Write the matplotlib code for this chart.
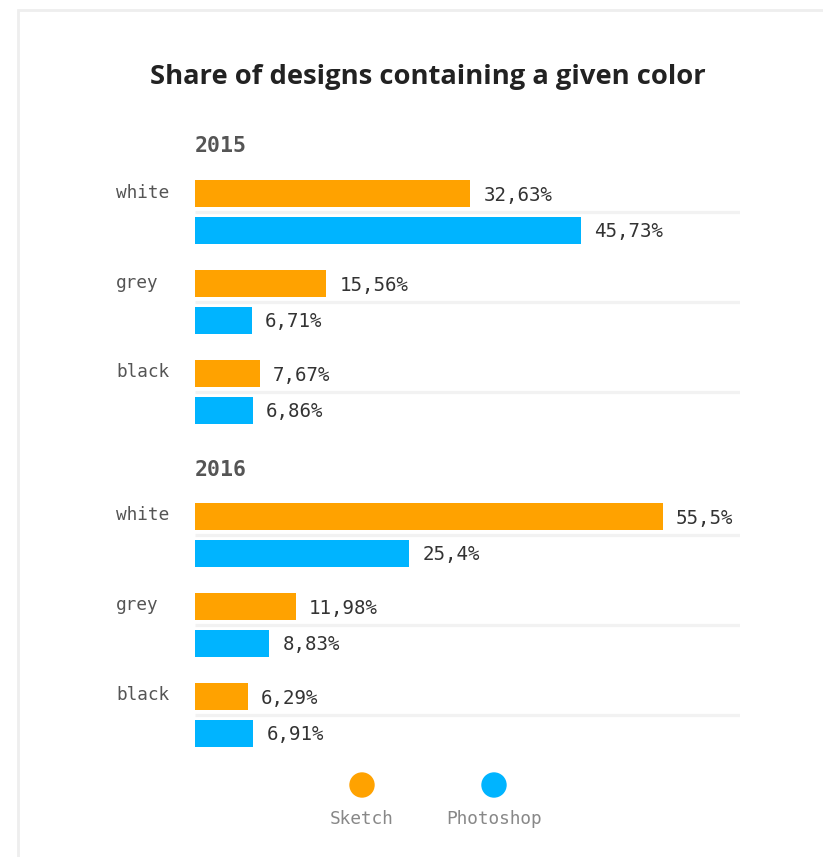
import matplotlib
matplotlib.use("Agg")
import matplotlib.pyplot as plt
from matplotlib.patches import Rectangle, Ellipse

years = ["2015", "2016"]
colors_cat = ["white", "grey", "black"]
sketch = {"2015": [32.63, 15.56, 7.67], "2016": [55.5, 11.98, 6.29]}
photoshop = {"2015": [45.73, 6.71, 6.86], "2016": [25.4, 8.83, 6.91]}
value_labels_sketch = {"2015": ["32,63%", "15,56%", "7,67%"], "2016": ["55,5%", "11,98%", "6,29%"]}
value_labels_photoshop = {"2015": ["45,73%", "6,71%", "6,86%"], "2016": ["25,4%", "8,83%", "6,91%"]}
series_names = ["Sketch", "Photoshop"]
series_colors = ["#ffa200", "#00b4ff"]

W, H = 823, 857
fig = plt.figure(figsize=(W / 100, H / 100), dpi=100)
fig.patch.set_facecolor("white")

# card border
fig.patches.append(Rectangle((18 / W, -0.05), 1.1, (H - 10) / H + 0.05, transform=fig.transFigure,
                             facecolor="none", edgecolor="#eeeeee", linewidth=2, zorder=-5))

AX_L, AX_R = 195, 740
XMAX = 64.65
ax = fig.add_axes([AX_L / W, 0, (AX_R - AX_L) / W, 1])
ax.set_zorder(2)
ax.set_xlim(0, XMAX)
ax.set_ylim(H, 0)
ax.axis("off")
ax.patch.set_alpha(0)

MONO = "DejaVu Sans Mono"
bar_h = 27
step_bar = 36.5
step_group = 90
step_year = 323
top0 = 180

for yi, yr in enumerate(years):
    ybase = top0 + yi * step_year
    fig.text(AX_L / W, 1 - (ybase - 33.5) / H, yr, family=MONO, fontweight="bold",
             fontsize=15.5, color="#555555", ha="left", va="center")
    for gi, cat in enumerate(colors_cat):
        ys = ybase + gi * step_group + bar_h / 2
        yp = ys + step_bar
        ysep = (ys + yp) / 2
        ax.plot([0, XMAX], [ysep, ysep], color="#f2f2f2", lw=2.3, solid_capstyle="butt", zorder=1)
        ax.barh(ys, sketch[yr][gi], height=bar_h, color=series_colors[0], zorder=2)
        ax.barh(yp, photoshop[yr][gi], height=bar_h, color=series_colors[1], zorder=2)
        ax.annotate(value_labels_sketch[yr][gi], (sketch[yr][gi], ys), xytext=(9.5, -1.2),
                    textcoords="offset points", va="center", ha="left", family=MONO,
                    fontsize=13.8, color="#333333")
        ax.annotate(value_labels_photoshop[yr][gi], (photoshop[yr][gi], yp), xytext=(9.5, -1.2),
                    textcoords="offset points", va="center", ha="left", family=MONO,
                    fontsize=13.8, color="#333333")
        fig.text(116 / W, 1 - (ys - 1) / H, cat, family=MONO, fontsize=12.8,
                 color="#555555", ha="left", va="center")

fig.text(428 / W, 1 - 76.5 / H, "Share of designs containing a given color",
         family="Open Sans", fontweight="bold", fontsize=19.7, color="#222222",
         ha="center", va="center")

# legend
leg_x = [362, 494]
for name, col, lx in zip(series_names, series_colors, leg_x):
    fig.patches.append(Ellipse((lx / W, 1 - 785 / H), 24 / W, 24 / H,
                               transform=fig.transFigure, color=col, zorder=3))
    fig.text(lx / W, 1 - 818.5 / H, name, family=MONO, fontsize=12.8, color="#888888",
             ha="center", va="center")

fig.savefig("out.png", dpi=100, facecolor="white")
